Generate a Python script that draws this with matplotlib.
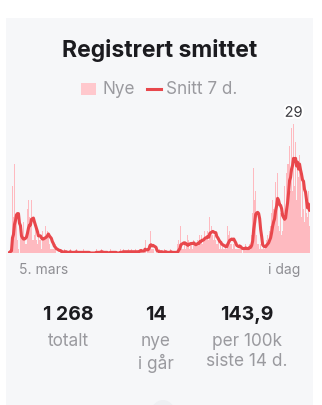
import matplotlib
matplotlib.use('Agg')
import matplotlib.pyplot as plt
import matplotlib.patches as mpatches
import matplotlib.patheffects as pe
import pandas as pd

# daily registered cases, 5. mars -> i dag
new_cases = [
    0, 0, 1, 1, 15, 8, 20, 6, 9, 3,
    1, 0, 4, 4, 3, 7, 3, 2, 2, 10,
    12, 8, 7, 12, 3, 3, 4, 7, 3, 2,
    5, 3, 3, 1, 5, 3, 3, 6, 4, 5,
    4, 2, 1, 1, 1, 1, 1, 2, 0, 0,
    0, 0, 1, 0, 0, 0, 1, 0, 0, 0,
    0, 0, 1, 0, 0, 0, 0, 0, 1, 0,
    0, 0, 0, 0, 0, 1, 0, 0, 0, 0,
    0, 0, 0, 0, 0, 0, 0, 0, 1, 0,
    0, 0, 0, 1, 0, 0, 0, 0, 0, 0,
    0, 0, 1, 0, 0, 0, 0, 0, 0, 0,
    0, 0, 1, 0, 0, 1, 0, 0, 0, 0,
    1, 0, 0, 1, 0, 0, 0, 1, 0, 0,
    0, 1, 1, 1, 0, 0, 0, 3, 0, 1,
    1, 2, 5, 1, 1, 1, 0, 0, 1, 0,
    0, 0, 1, 0, 0, 0, 0, 1, 0, 0,
    0, 0, 0, 1, 0, 0, 0, 0, 0, 0,
    2, 3, 2, 6, 1, 1, 1, 2, 1, 2,
    4, 3, 1, 2, 2, 1, 3, 2, 2, 2,
    3, 2, 4, 3, 4, 2, 3, 5, 3, 4,
    5, 3, 8, 4, 6, 4, 3, 4, 3, 2,
    2, 3, 1, 2, 1, 2, 1, 1, 2, 1,
    6, 4, 5, 2, 2, 1, 2, 3, 1, 1,
    1, 1, 2, 1, 1, 0, 1, 1, 2, 1,
    1, 1, 2, 1, 4, 9, 19, 12, 14, 4,
    2, 2, 1, 2, 1, 1, 2, 1, 2, 3,
    4, 3, 5, 6, 9, 12, 10, 9, 16, 12,
    18, 6, 5, 9, 4, 5, 9, 15, 8, 18,
    20, 20, 24, 14, 28, 14, 29, 15, 25, 12,
    20, 17, 22, 20, 8, 16, 10, 7, 13, 9,
    8, 14, 6,
]
x_labels = ['5. mars', 'i dag']
legend_labels = ['Nye', 'Snitt 7 d.']
stat_values = ['1 268', '14', '143,9']
stat_labels = ['totalt', 'nye\ni går', 'per 100k\nsiste 14 d.']

W, H = 322, 406
BAR = '#ffb4ba'
LINE = '#e8474c'
GREY = '#9a9a9f'

plt.rcParams['font.family'] = ['Inter', 'DejaVu Sans']


def fx(x):
    return x / W


def fy(y):
    return 1 - y / H


fig = plt.figure(figsize=(W / 100, H / 100), dpi=100)
fig.patch.set_facecolor('white')
fig.patches.append(mpatches.Rectangle((fx(6), 0), fx(307), fy(19), transform=fig.transFigure,
                                      fc='#f6f7f9', ec='none', zorder=-2))
fig.patches.append(mpatches.Circle((fx(163), fy(418)), 17 / H, transform=fig.transFigure,
                                   fc='#eef0f3', ec='none', zorder=-1))

fig.text(fx(160), fy(51), 'Registrert smittet', ha='center', va='center',
         fontsize=16.5, fontweight='bold', color='#1b1b1f')

# legend
fig.patches.append(mpatches.Rectangle((fx(81), fy(96)), fx(15), 12 / H, transform=fig.transFigure,
                                      fc='#ffc8cd', ec='none'))
fig.text(fx(102), fy(90), legend_labels[0], ha='left', va='center', fontsize=12.3, color=GREY)
fig.lines.append(plt.Line2D([fx(147), fx(161)], [fy(90), fy(90)], transform=fig.transFigure,
                            color=LINE, lw=2.2))
fig.text(fx(166), fy(90), legend_labels[1], ha='left', va='center', fontsize=12.3, color=GREY)

# chart
days = list(range(len(new_cases)))
avg = pd.Series(new_cases).rolling(7, min_periods=1).mean()
ax = fig.add_axes([fx(8), fy(254), 302 / W, 129 / H], zorder=2)
ax.patch.set_alpha(0)
ax.bar(days, new_cases, width=1.0, color=BAR, linewidth=0, alpha=0.9)
ax.plot(days, avg, color=LINE, lw=2.2, solid_joinstyle='round', solid_capstyle='round')
ax.set_xlim(-0.5, len(new_cases) - 0.5)
ax.set_ylim(0, max(new_cases))
ax.axis('off')

peak = max(new_cases)
ax.annotate(str(peak), (new_cases.index(peak), peak), xytext=(0, 3), textcoords='offset points',
            ha='center', va='bottom', fontsize=10.5, color='#3a3a3f', annotation_clip=False,
            path_effects=[pe.withStroke(linewidth=3, foreground='white')])

fig.text(fx(19), fy(270), x_labels[0], ha='left', va='center', fontsize=10, color='#8e8e93')
fig.text(fx(300), fy(270), x_labels[1], ha='right', va='center', fontsize=10, color='#8e8e93')

# stats
for cx, val, lab in zip([68, 156, 247], stat_values, stat_labels):
    fig.text(fx(cx), fy(315), val, ha='center', va='center', fontsize=14,
             fontweight='bold', color='#1b1b1f')
    fig.text(fx(cx), fy(333), lab, ha='center', va='top', fontsize=12.4, color=GREY,
             linespacing=1.25)

fig.savefig('out.png', dpi=100)
